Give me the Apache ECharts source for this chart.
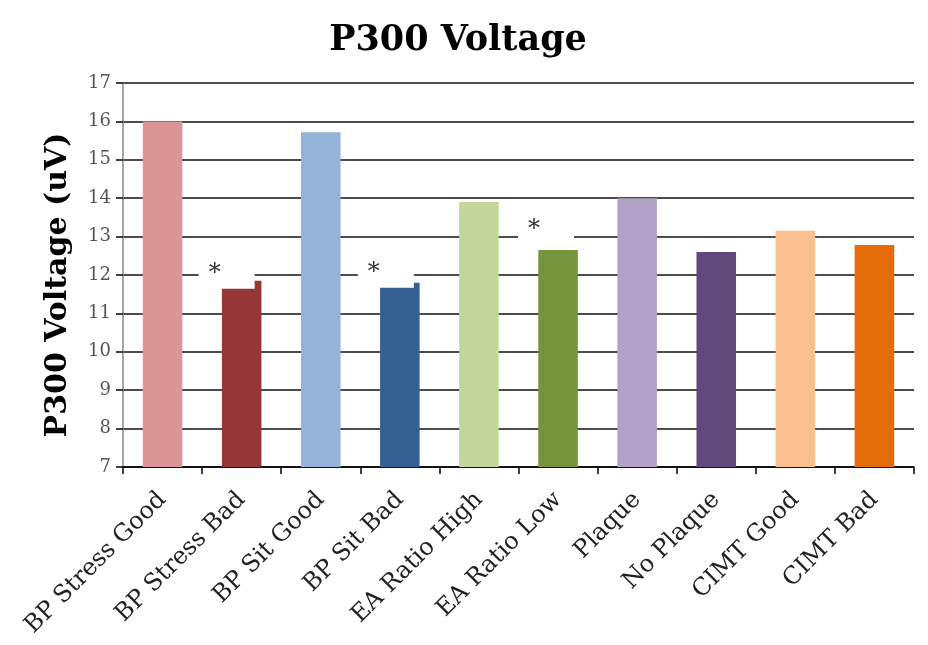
<!DOCTYPE html>
<html>
<head>
<meta charset="utf-8">
<script src="https://cdn.jsdelivr.net/npm/echarts@6/dist/echarts.min.js"></script>
<style>html,body{margin:0;padding:0;background:#fff}#c{width:928px;height:645px}</style>
</head>
<body>
<div id="c"></div>
<script>
const categories = ['BP Stress Good','BP Stress Bad','BP Sit Good','BP Sit Bad','EA Ratio High','EA Ratio Low','Plaque','No Plaque','CIMT Good','CIMT Bad'];
const values = [16.0, 11.85, 15.72, 11.8, 13.9, 12.65, 14.0, 12.6, 13.15, 12.78];
const significant = [false, true, false, true, false, true, false, false, false, false];
const colors = ['#D99694','#953735','#95B3D7','#376092','#C3D69B','#77933C','#B3A2C7','#604A7B','#FAC090','#E46C0A'];
const yTicks = [7,8,9,10,11,12,13,14,15,16,17];

const serif = '"DejaVu Serif", "Liberation Serif", serif';
const starStyle = {1:[-15,13],3:[-14,10],5:[-12,0]};

const chart = echarts.init(document.getElementById('c'), null, {renderer:'canvas'});
chart.setOption({
  animation:false,
  title:{text:'P300 Voltage', left:453, textAlign:'center', top:18,
    textStyle:{fontFamily:serif, fontWeight:'bold', fontSize:35, color:'#000'}},
  grid:{left:123, right:14, top:83, bottom:178},
  xAxis:{type:'category', data:categories,
    axisLine:{lineStyle:{color:'#000', width:1.5}},
    axisTick:{show:true, length:7, lineStyle:{color:'#000', width:1.5}},
    axisLabel:{rotate:45, fontFamily:serif, fontSize:24, color:'#222', margin:29, interval:0}},
  yAxis:{type:'value', min:yTicks[0], max:yTicks[yTicks.length-1], interval:1,
    name:'P300 Voltage (uV)', nameLocation:'middle', nameGap:50, nameRotate:90,
    nameTextStyle:{fontFamily:serif, fontWeight:'bold', fontSize:30, color:'#000', padding:[0,20,0,0]},
    axisLine:{show:true, lineStyle:{color:'#888', width:1.5}},
    axisTick:{show:true, length:7, lineStyle:{color:'#000', width:1.5}},
    axisLabel:{fontFamily:serif, fontSize:18, color:'#555', margin:12},
    splitLine:{lineStyle:{color:'#111', width:1.6}}},
  series:[{type:'bar', barWidth:'50%',
    data: values.map((v,i)=>{
      const d = {value:v, itemStyle:{color:colors[i]}};
      if (significant[i]) {
        const off = starStyle[i];
        d.label = {show:true, position:'top', formatter:'*', fontFamily:serif, fontSize:24, color:'#333',
          backgroundColor:'#fff', padding:[4,34,4,10], lineHeight:22, offset:off};
      }
      return d;
    })
  }]
});
</script>
</body>
</html>
